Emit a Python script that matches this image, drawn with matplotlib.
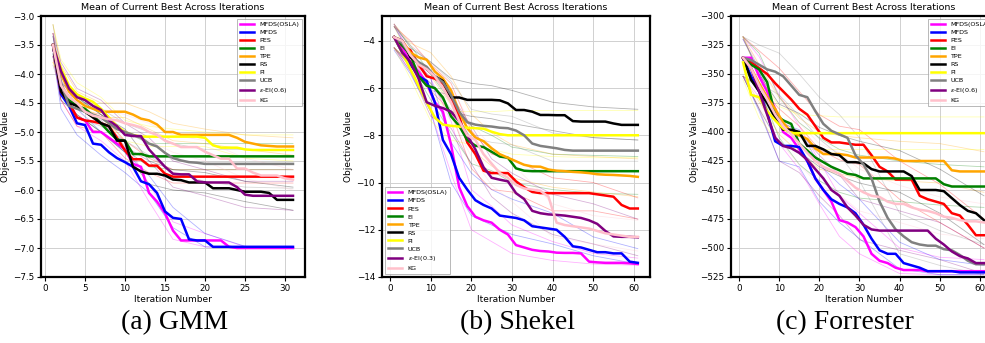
import matplotlib
matplotlib.use("Agg")
import matplotlib.pyplot as plt
import numpy as np

# ---------------- common ----------------
methods = ["MFDS(OSLA)", "MFDS", "PES", "EI", "TPE", "RS", "PI", "UCB", r"$\epsilon$-EI", "KG"]
colors = ["#ff00ff", "#0000ff", "#ff0000", "#008000", "#ffa500", "#000000",
          "#ffff00", "#808080", "#800080", "#ffc0cb"]
titles = ["Mean of Current Best Across Iterations"] * 3
captions = ["(a) GMM", "(b) Shekel", "(c) Forrester"]
eps_params = ["0.6", "0.3", "0.6"]

# ---------------- (a) GMM ----------------
gmm_x = list(range(1, 32))
gmm_mfds_osla = [-3.5, -4.3, -4.5, -4.75, -4.8, -5.0, -5.0, -5.1, -5.2, -5.3, -5.55, -5.6, -6.05, -6.2, -6.4, -6.7,
                 -6.87, -6.87, -6.87, -6.87, -6.87, -6.87, -6.98, -7.0, -7.0, -7.0, -7.0, -7.0, -7.0, -7.0, -7.0]
gmm_mfds = [-3.5, -4.35, -4.55, -4.85, -4.88, -5.2, -5.22, -5.35, -5.45, -5.52, -5.6, -5.85, -5.9, -6.05, -6.37, -6.48,
            -6.5, -6.85, -6.87, -6.87, -6.98, -6.98, -6.98, -6.98, -6.98, -6.98, -6.98, -6.98, -6.98, -6.98, -6.98]
gmm_pes = [-3.5, -4.3, -4.5, -4.75, -4.8, -4.82, -4.85, -4.9, -5.1, -5.32, -5.47, -5.47, -5.58, -5.58, -5.72, -5.77,
           -5.77, -5.77, -5.77, -5.77, -5.77, -5.77, -5.77, -5.77, -5.77, -5.77, -5.77, -5.77, -5.77, -5.77, -5.77]
gmm_ei = [-3.5, -4.2, -4.45, -4.55, -4.6, -4.72, -4.85, -5.0, -5.13, -5.15, -5.38, -5.38, -5.42, -5.42, -5.42, -5.42,
          -5.42, -5.42, -5.42, -5.42, -5.42, -5.42, -5.42, -5.42, -5.42, -5.42, -5.42, -5.42, -5.42, -5.42, -5.42]
gmm_tpe = [-3.5, -4.0, -4.3, -4.45, -4.55, -4.6, -4.65, -4.65, -4.65, -4.65, -4.7, -4.77, -4.8, -4.87, -5.0, -5.0,
           -5.05, -5.05, -5.05, -5.05, -5.05, -5.05, -5.05, -5.1, -5.17, -5.2, -5.23, -5.24, -5.25, -5.25, -5.25]
gmm_rs = [-3.5, -4.3, -4.5, -4.55, -4.65, -4.75, -4.85, -4.9, -5.15, -5.15, -5.6, -5.68, -5.72, -5.72, -5.75, -5.82,
          -5.83, -5.87, -5.87, -5.87, -5.97, -5.97, -5.97, -6.0, -6.03, -6.03, -6.03, -6.05, -6.17, -6.17, -6.17]
gmm_pi = [-3.5, -3.9, -4.2, -4.35, -4.42, -4.48, -4.6, -4.75, -4.9, -5.0, -5.05, -5.08, -5.08, -5.08, -5.08, -5.08,
          -5.08, -5.08, -5.08, -5.1, -5.23, -5.27, -5.27, -5.27, -5.3, -5.31, -5.31, -5.31, -5.31, -5.31, -5.31]
gmm_ucb = [-3.5, -4.15, -4.55, -4.6, -4.65, -4.7, -4.75, -4.85, -4.95, -5.0, -5.05, -5.1, -5.2, -5.25, -5.36, -5.45,
           -5.49, -5.52, -5.53, -5.55, -5.55, -5.55, -5.55, -5.55, -5.55, -5.55, -5.55, -5.55, -5.55, -5.55, -5.55]
gmm_eps_ei = [-3.5, -3.95, -4.25, -4.4, -4.45, -4.55, -4.62, -4.8, -4.9, -5.05, -5.07, -5.07, -5.3, -5.45, -5.6, -5.72,
              -5.73, -5.73, -5.85, -5.87, -5.87, -5.87, -5.87, -5.95, -6.08, -6.1, -6.1, -6.1, -6.1, -6.1, -6.1]
gmm_kg = [-3.5, -4.2, -4.4, -4.5, -4.65, -4.72, -4.75, -4.78, -4.8, -4.85, -4.88, -4.92, -5.0, -5.05, -5.15, -5.2,
          -5.26, -5.26, -5.26, -5.34, -5.4, -5.46, -5.46, -5.63, -5.63, -5.7, -5.75, -5.75, -5.75, -5.8, -5.82]

gmm_bx = [1, 2, 4, 7, 10, 13, 16, 20, 25, 31]
gmm_upper = [
    [-3.3, -4.2, -4.55, -4.85, -5.15, -5.9, -6.55, -6.75, -6.98, -6.98],
    [-3.35, -4.2, -4.6, -5.0, -5.35, -5.75, -6.3, -6.75, -6.97, -6.97],
    [-3.3, -4.15, -4.6, -4.7, -5.15, -5.45, -5.65, -5.65, -5.65, -5.65],
    [-3.3, -4.05, -4.4, -4.7, -5.0, -5.2, -5.2, -5.2, -5.2, -5.2],
    [-3.15, -3.85, -4.3, -4.5, -4.5, -4.65, -4.85, -4.95, -5.05, -5.1],
    [-3.35, -4.15, -4.4, -4.7, -4.95, -5.5, -5.65, -5.7, -5.85, -5.95],
    [-3.15, -3.75, -4.15, -4.4, -4.8, -4.9, -4.95, -5.0, -5.05, -5.05],
    [-3.15, -4.0, -4.45, -4.6, -4.85, -5.0, -5.2, -5.3, -5.3, -5.3],
    [-3.3, -3.8, -4.25, -4.45, -4.85, -5.1, -5.5, -5.65, -5.85, -5.85],
    [-3.3, -4.05, -4.35, -4.6, -4.7, -4.85, -5.05, -5.15, -5.45, -5.65],
]
gmm_lower = [
    [-3.7, -4.45, -4.9, -5.15, -5.5, -6.2, -6.85, -6.98, -7.0, -7.0],
    [-3.65, -4.6, -5.05, -5.4, -5.7, -6.05, -6.65, -6.98, -7.0, -7.0],
    [-3.7, -4.45, -4.9, -5.0, -5.45, -5.7, -5.88, -5.88, -5.88, -5.88],
    [-3.7, -4.35, -4.7, -5.0, -5.3, -5.6, -5.65, -5.65, -5.65, -5.65],
    [-3.8, -4.15, -4.6, -4.75, -4.75, -4.95, -5.15, -5.2, -5.3, -5.4],
    [-3.65, -4.45, -4.7, -5.0, -5.35, -5.9, -6.0, -6.05, -6.2, -6.35],
    [-3.8, -4.05, -4.5, -4.75, -5.15, -5.25, -5.25, -5.25, -5.45, -5.5],
    [-3.85, -4.3, -4.75, -4.9, -5.15, -5.4, -5.7, -5.85, -5.95, -5.97],
    [-3.7, -4.1, -4.55, -4.8, -5.25, -5.5, -5.95, -6.1, -6.3, -6.35],
    [-3.7, -4.35, -4.65, -4.9, -5.0, -5.15, -5.35, -5.5, -5.8, -6.0],
]

# ---------------- (b) Shekel ----------------
shk_x = list(range(1, 62, 2))
shk_mfds_osla = [-3.85, -4.3, -4.9, -5.3, -5.8, -6.6, -7.0, -8.4, -10.2, -11.0, -11.45, -11.6, -11.7, -12.0, -12.2,
                 -12.65, -12.75, -12.85, -12.9, -12.92, -12.97, -12.98, -12.98, -13.0, -13.35, -13.38, -13.4, -13.4,
                 -13.4, -13.42, -13.45]
shk_mfds = [-3.85, -4.5, -5.0, -5.5, -5.7, -6.6, -8.2, -8.8, -9.8, -10.3, -10.75, -10.95, -11.1, -11.4, -11.45, -11.5,
            -11.6, -11.85, -11.9, -11.95, -12.0, -12.3, -12.7, -12.75, -12.85, -12.95, -12.95, -13.0, -13.0, -13.35,
            -13.4]
shk_pes = [-3.85, -4.2, -4.4, -5.0, -5.5, -5.6, -5.8, -6.4, -7.2, -8.3, -8.8, -9.5, -9.6, -9.6, -9.6, -9.95, -10.2,
           -10.4, -10.45, -10.45, -10.45, -10.45, -10.45, -10.45, -10.45, -10.5, -10.55, -10.6, -10.95, -11.1, -11.1]
shk_ei = [-3.85, -4.2, -4.6, -5.5, -5.9, -6.0, -6.4, -7.2, -7.6, -8.2, -8.44, -8.5, -8.7, -8.9, -8.95, -9.4, -9.5,
          -9.52, -9.52, -9.52, -9.52, -9.52, -9.52, -9.52, -9.52, -9.52, -9.52, -9.52, -9.52, -9.52, -9.52]
shk_tpe = [-3.85, -4.0, -4.5, -4.7, -4.8, -5.3, -5.6, -6.1, -7.0, -7.7, -8.1, -8.25, -8.55, -8.8, -8.95, -9.1, -9.25,
           -9.32, -9.33, -9.45, -9.5, -9.52, -9.55, -9.57, -9.6, -9.65, -9.67, -9.68, -9.7, -9.72, -9.76]
shk_rs = [-3.85, -4.0, -4.7, -4.95, -5.2, -5.5, -5.7, -6.4, -6.4, -6.5, -6.5, -6.5, -6.5, -6.52, -6.65, -6.93, -6.93,
          -7.0, -7.14, -7.14, -7.15, -7.15, -7.4, -7.42, -7.42, -7.42, -7.42, -7.5, -7.56, -7.56, -7.56]
shk_pi = [-3.85, -4.5, -5.2, -5.9, -6.6, -7.25, -7.55, -7.6, -7.63, -7.68, -7.7, -7.72, -7.85, -7.95, -8.0, -8.0,
          -8.0, -8.0, -8.0, -8.0, -8.0, -8.0, -8.0, -8.0, -8.0, -8.0, -8.0, -8.0, -8.0, -8.0, -8.0]
shk_ucb = [-3.85, -4.1, -4.6, -4.9, -5.1, -5.5, -5.75, -6.3, -7.0, -7.45, -7.55, -7.6, -7.63, -7.68, -7.7, -7.8, -8.0,
           -8.35, -8.45, -8.5, -8.55, -8.62, -8.65, -8.65, -8.65, -8.65, -8.65, -8.65, -8.65, -8.65, -8.65]
shk_eps_ei = [-3.85, -4.5, -4.9, -5.6, -6.6, -6.75, -6.85, -7.0, -7.4, -8.0, -8.6, -9.35, -9.8, -9.88, -9.95, -10.45,
              -10.7, -11.2, -11.3, -11.35, -11.37, -11.4, -11.45, -11.5, -11.6, -11.75, -12.05, -12.28, -12.3, -12.3,
              -12.32]
shk_kg = [-3.85, -4.0, -4.6, -5.0, -5.2, -5.5, -6.0, -6.6, -7.4, -8.0, -8.2, -8.8, -9.2, -9.6, -9.8, -10.1, -10.25,
          -10.3, -10.35, -10.6, -11.7, -11.8, -11.85, -11.9, -11.95, -12.05, -12.15, -12.2, -12.25, -12.3, -12.3]

shk_bx = [1, 5, 10, 15, 20, 25, 30, 40, 50, 61]
shk_upper = [
    [-3.3, -4.5, -5.6, -7.4, -10.3, -11.0, -11.8, -12.5, -13.0, -13.2],
    [-3.4, -4.6, -5.6, -8.3, -9.6, -10.3, -10.7, -11.3, -12.3, -12.8],
    [-3.4, -4.0, -5.0, -5.8, -7.8, -8.8, -9.0, -9.8, -10.0, -10.65],
    [-3.4, -4.2, -5.4, -6.6, -7.6, -8.0, -8.5, -8.8, -8.85, -8.9],
    [-3.3, -4.1, -4.5, -5.5, -7.1, -7.9, -8.4, -8.8, -8.9, -9.0],
    [-3.3, -4.3, -4.9, -5.6, -5.8, -5.9, -6.1, -6.6, -6.8, -6.9],
    [-3.4, -4.8, -6.3, -7.0, -7.0, -7.0, -6.95, -6.95, -6.95, -6.95],
    [-3.3, -4.2, -4.9, -5.7, -6.9, -7.1, -7.2, -7.9, -8.1, -8.2],
    [-3.4, -4.5, -6.1, -6.3, -7.6, -9.0, -9.6, -10.5, -10.9, -11.55],
    [-3.3, -4.2, -4.9, -6.0, -7.5, -8.5, -9.2, -10.9, -11.4, -11.6],
]
shk_lower = [
    [-4.3, -5.3, -7.0, -9.6, -12.0, -12.5, -13.0, -13.3, -13.45, -13.5],
    [-4.4, -5.4, -7.0, -10.0, -11.4, -11.8, -12.2, -12.6, -13.1, -13.45],
    [-4.3, -4.9, -6.1, -7.0, -9.4, -10.3, -10.4, -11.2, -11.2, -11.55],
    [-4.3, -5.0, -6.5, -7.9, -9.2, -9.5, -10.0, -10.3, -10.45, -10.5],
    [-4.3, -4.9, -5.5, -6.7, -8.6, -9.3, -9.8, -10.2, -10.4, -10.6],
    [-4.3, -5.1, -5.8, -7.0, -7.2, -7.3, -7.5, -7.8, -8.1, -8.2],
    [-4.3, -5.6, -7.4, -8.2, -8.4, -8.6, -8.8, -8.9, -8.95, -8.95],
    [-4.3, -5.0, -5.8, -6.9, -8.1, -8.3, -8.4, -9.1, -9.1, -9.1],
    [-4.3, -5.3, -7.2, -7.7, -9.2, -10.6, -11.3, -12.2, -12.6, -13.1],
    [-4.3, -5.0, -5.8, -7.2, -8.9, -10.1, -10.8, -12.3, -12.6, -12.9],
]

# ---------------- (c) Forrester ----------------
frr_x = list(range(1, 62, 2))
frr_mfds_osla = [-336, -336, -352, -365, -380, -400, -405, -415, -425, -440, -450, -460, -476, -478, -482, -490, -505,
                 -511, -513, -517, -519, -519, -519, -520, -520, -520, -520, -520, -520, -520, -520]
frr_mfds = [-336, -352, -365, -383, -408, -412, -412, -413, -425, -440, -450, -458, -462, -465, -470, -480, -492, -502,
            -505, -505, -513, -515, -517, -520, -520, -520, -520, -521, -521, -521, -521]
frr_pes = [-336, -340, -345, -350, -358, -365, -372, -380, -385, -395, -405, -409, -409, -410, -411, -411, -420, -430,
           -434, -441, -441, -441, -455, -458, -460, -462, -470, -472, -480, -489, -489]
frr_ei = [-336, -342, -346, -357, -385, -390, -393, -410, -416, -422, -426, -430, -433, -436, -437, -440, -440, -440,
          -440, -440, -440, -440, -440, -440, -440, -445, -447, -447, -447, -447, -447]
frr_tpe = [-336, -345, -358, -370, -380, -392, -400, -403, -406, -414, -419, -419, -419, -420, -422, -422, -422, -422,
           -422, -423, -425, -425, -425, -425, -425, -425, -433, -434, -434, -434, -434]
frr_rs = [-336, -355, -365, -375, -388, -398, -398, -400, -412, -412, -415, -419, -420, -426, -426, -427, -432, -434,
          -434, -434, -434, -438, -450, -450, -450, -451, -457, -463, -468, -470, -476]
frr_pi = [-340, -368, -370, -382, -390, -397, -401, -401, -401, -401, -401, -401, -401, -401, -401, -401, -401, -401,
          -401, -401, -401, -401, -401, -401, -401, -401, -401, -401, -401, -401, -401]
frr_ucb = [-336, -338, -342, -346, -348, -352, -360, -368, -370, -382, -393, -399, -402, -405, -420, -428, -440, -460,
           -474, -484, -490, -495, -497, -498, -498, -501, -502, -506, -511, -514, -514]
frr_eps_ei = [-336, -345, -365, -385, -405, -412, -414, -418, -424, -432, -440, -450, -455, -465, -472, -480, -484,
              -485, -485, -485, -485, -485, -485, -485, -492, -497, -503, -507, -509, -513, -513]
frr_kg = [-336, -345, -360, -372, -385, -395, -402, -410, -418, -425, -430, -433, -436, -442, -448, -452, -455, -456,
          -460, -462, -462, -465, -467, -468, -470, -473, -474, -476, -477, -477, -478]

frr_bx = [1, 5, 10, 15, 20, 25, 30, 40, 50, 61]
frr_upper = [
    [-318, -335, -368, -395, -425, -455, -470, -500, -508, -510],
    [-320, -348, -392, -398, -428, -445, -458, -495, -510, -515],
    [-318, -330, -345, -365, -385, -395, -398, -425, -445, -475],
    [-318, -332, -370, -392, -405, -415, -420, -425, -428, -430],
    [-318, -342, -370, -388, -400, -403, -405, -408, -410, -417],
    [-318, -350, -376, -384, -396, -403, -408, -416, -432, -455],
    [-318, -352, -378, -385, -386, -387, -387, -387, -387, -387],
    [-318, -325, -332, -350, -370, -385, -405, -470, -485, -497],
    [-320, -345, -390, -400, -420, -437, -458, -468, -478, -500],
    [-318, -342, -372, -392, -410, -418, -432, -446, -456, -462],
]
frr_lower = [
    [-352, -370, -410, -432, -462, -490, -505, -522, -523, -523],
    [-352, -382, -425, -430, -460, -478, -492, -518, -523, -523],
    [-352, -360, -380, -395, -415, -424, -428, -458, -478, -500],
    [-352, -362, -405, -428, -442, -452, -457, -460, -463, -465],
    [-352, -374, -402, -418, -432, -436, -440, -442, -444, -452],
    [-352, -380, -410, -417, -430, -438, -444, -452, -470, -497],
    [-355, -388, -410, -415, -415, -415, -415, -415, -415, -415],
    [-352, -358, -368, -386, -406, -420, -442, -505, -515, -523],
    [-352, -380, -425, -435, -455, -472, -493, -502, -510, -522],
    [-352, -378, -408, -428, -446, -454, -468, -478, -488, -492],
]

panels = [
    dict(x=gmm_x, means=[gmm_mfds_osla, gmm_mfds, gmm_pes, gmm_ei, gmm_tpe, gmm_rs, gmm_pi, gmm_ucb, gmm_eps_ei, gmm_kg],
         bx=gmm_bx, upper=gmm_upper, lower=gmm_lower, ylim=(-7.5, -3.0),
         yticks=np.arange(-7.5, -2.99, 0.5), xticks=range(0, 31, 5), yfmt="{:.1f}", loc="upper right"),
    dict(x=shk_x, means=[shk_mfds_osla, shk_mfds, shk_pes, shk_ei, shk_tpe, shk_rs, shk_pi, shk_ucb, shk_eps_ei, shk_kg],
         bx=shk_bx, upper=shk_upper, lower=shk_lower, ylim=(-14, -2.95),
         yticks=range(-14, -3, 2), xticks=range(0, 61, 10), yfmt="{:.0f}", loc="lower left"),
    dict(x=frr_x, means=[frr_mfds_osla, frr_mfds, frr_pes, frr_ei, frr_tpe, frr_rs, frr_pi, frr_ucb, frr_eps_ei, frr_kg],
         bx=frr_bx, upper=frr_upper, lower=frr_lower, ylim=(-525, -300),
         yticks=range(-525, -299, 25), xticks=range(0, 61, 10), yfmt="{:.0f}", loc="upper right"),
]

W, H = 985, 343
fig = plt.figure(figsize=(W / 100, H / 100), dpi=100)
boxes = [(41, 305), (382, 650), (731, 996)]
top_px, bot_px = 16, 277
cap_x = [175, 518, 845]
ylabel_px = [10, 353, 699]

for i, (p, (l, r)) in enumerate(zip(panels, boxes)):
    ax = fig.add_axes([l / W, 1 - bot_px / H, (r - l) / W, (bot_px - top_px) / H])
    for k in range(len(methods)):
        ax.plot(p["bx"], p["upper"][k], color=colors[k], lw=0.6, alpha=0.3)
        ax.plot(p["bx"], p["lower"][k], color=colors[k], lw=0.6, alpha=0.3)
    for k, name in enumerate(methods):
        label = name + "(" + eps_params[i] + ")" if "epsilon" in name else name
        ax.plot(p["x"], p["means"][k], color=colors[k], lw=1.8, label=label)
    ax.set_ylim(*p["ylim"])
    ax.margins(x=0.05)
    ax.set_yticks(list(p["yticks"]))
    ax.set_yticklabels([p["yfmt"].format(v).replace("-", "\u2212") for v in p["yticks"]])
    ax.set_xticks(list(p["xticks"]))
    ax.tick_params(labelsize=6.3, length=3, width=0.8, pad=2)
    ax.grid(True, color="#d0d0d0", lw=0.7)
    for s in ax.spines.values():
        s.set_linewidth(1.6)
        s.set_color("black")
    ax.set_xlabel("Iteration Number", fontsize=6.5)
    ax.set_ylabel("Objective Value", fontsize=6.5)
    ax.yaxis.set_label_coords((ylabel_px[i] - l) / (r - l), 0.5)
    ax.xaxis.set_label_coords(0.5, -(295 - bot_px) / (bot_px - top_px))
    ax.set_title(titles[i], fontsize=6.8, pad=4)
    leg = ax.legend(loc=p["loc"], fontsize=4.6, handlelength=2.3, labelspacing=0.4,
                    borderpad=0.4, framealpha=0.8, edgecolor="#999999", fancybox=False)
    leg.get_frame().set_linewidth(0.6)
    fig.text(cap_x[i] / W, 1 - 323 / H, captions[i], ha="center", va="center",
             fontsize=20, family="Liberation Serif")

fig.savefig("out.png", dpi=100)
